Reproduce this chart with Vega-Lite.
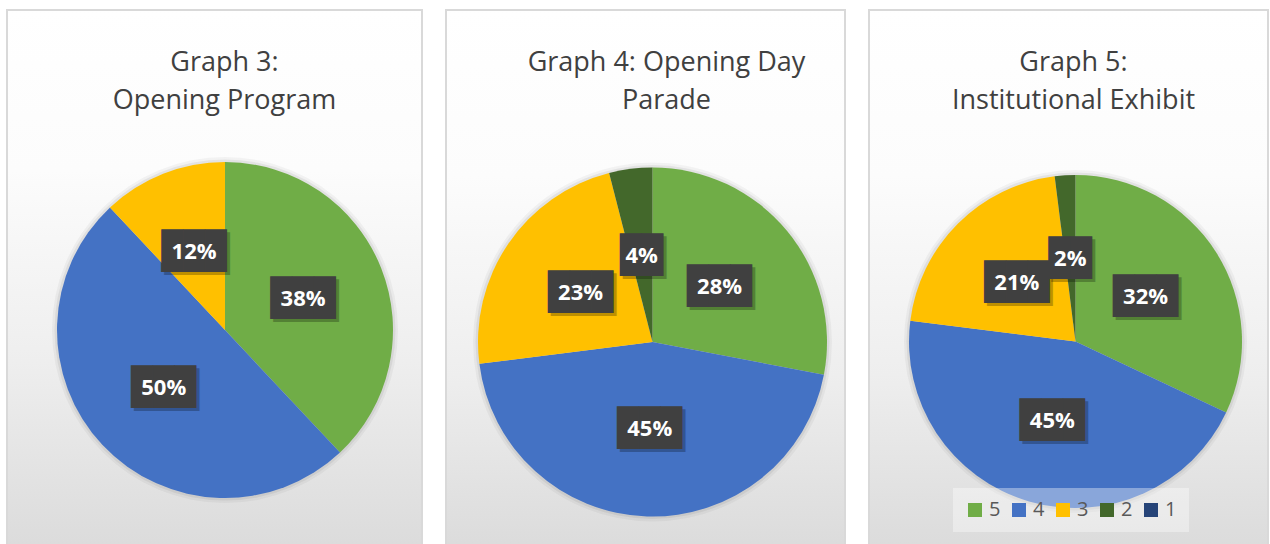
{
  "$schema": "https://vega.github.io/schema/vega-lite/v6.json",
  "background": "white",
  "padding": {"left": 6, "top": 9, "right": 0, "bottom": 0},
  "datasets": {
    "g3": [{"rating": 5, "pct": 0.38}, {"rating": 4, "pct": 0.50}, {"rating": 3, "pct": 0.12}],
    "g4": [{"rating": 5, "pct": 0.28}, {"rating": 4, "pct": 0.45}, {"rating": 3, "pct": 0.23}, {"rating": 2, "pct": 0.04}],
    "g5": [{"rating": 5, "pct": 0.32}, {"rating": 4, "pct": 0.45}, {"rating": 3, "pct": 0.21}, {"rating": 2, "pct": 0.02}]
  },
  "spacing": 22,
  "hconcat": [
    {
      "width": 415, "height": 640,
      "view": {"stroke": "#d9d9d9", "strokeWidth": 2, "fill": {"gradient": "linear", "x1": 0, "y1": 0, "x2": 0, "y2": 1, "stops": [{"offset": 0, "color": "#ffffff"}, {"offset": 0.25, "color": "#fcfcfc"}, {"offset": 0.55, "color": "#eeeeee"}, {"offset": 0.83, "color": "#dcdcdc"}, {"offset": 1, "color": "#d2d2d2"}]}},
      "title": {"text": ["Graph 3:", "Opening Program"], "dx": 10, "offset": -105},
      "data": {"name": "g3"},
      "layer": [
        {"transform": [{"aggregate": [{"op": "count", "as": "n"}]}],
         "mark": {"type": "arc", "theta": 0, "theta2": 6.2832, "radius": 173, "xOffset": 10.5, "color": "#000000", "opacity": 0.04}, "encoding": {}},
        {"transform": [{"aggregate": [{"op": "count", "as": "n"}]}],
         "mark": {"type": "arc", "theta": 0, "theta2": 6.2832, "radius": 170.5, "xOffset": 10.5, "color": "#000000", "opacity": 0.06}, "encoding": {}},
        {"mark": {"type": "arc", "radius": 168, "xOffset": 10.5},
         "encoding": {"theta": {"field": "pct", "type": "quantitative", "stack": true}, "order": {"field": "rating", "type": "quantitative", "sort": "descending"},
           "color": {"field": "rating", "type": "nominal", "scale": {"domain": [5, 4, 3, 2, 1], "range": ["#70ad47", "#4472c4", "#ffc000", "#43682b", "#264478"]}, "legend": null}}},
        {"mark": {"type": "text", "radius": 84, "xOffset": 13.5, "dy": 3, "font": "DejaVu Sans Mono", "fontSize": 36, "color": "#000000", "opacity": 0.25, "baseline": "middle", "align": "center"},
         "encoding": {"theta": {"field": "pct", "type": "quantitative", "stack": true}, "order": {"field": "rating", "type": "quantitative", "sort": "descending"}, "text": {"condition": {"test": "datum.pct >= 0.1", "value": "███"}, "value": "██"}}},
        {"mark": {"type": "text", "radius": 84, "xOffset": 10.5, "font": "DejaVu Sans Mono", "fontSize": 36, "color": "#404040", "baseline": "middle", "align": "center"},
         "encoding": {"theta": {"field": "pct", "type": "quantitative", "stack": true}, "order": {"field": "rating", "type": "quantitative", "sort": "descending"}, "text": {"condition": {"test": "datum.pct >= 0.1", "value": "███"}, "value": "██"}}},
        {"mark": {"type": "text", "radius": 84, "xOffset": 10.5, "font": "Open Sans", "fontSize": 22, "fontWeight": "bold", "color": "#ffffff", "baseline": "middle", "align": "center"},
         "encoding": {"theta": {"field": "pct", "type": "quantitative", "stack": true}, "order": {"field": "rating", "type": "quantitative", "sort": "descending"}, "text": {"field": "pct", "type": "quantitative", "format": ".0%"}}}
      ]
    },
    {
      "width": 399, "height": 664,
      "view": {"stroke": "#d9d9d9", "strokeWidth": 2, "fill": {"gradient": "linear", "x1": 0, "y1": 0, "x2": 0, "y2": 1, "stops": [{"offset": 0, "color": "#ffffff"}, {"offset": 0.25, "color": "#fcfcfc"}, {"offset": 0.55, "color": "#eeeeee"}, {"offset": 0.8, "color": "#dcdcdc"}, {"offset": 1, "color": "#d2d2d2"}]}},
      "title": {"text": ["Graph 4: Opening Day", "Parade"], "dx": 21, "offset": -105},
      "data": {"name": "g4"},
      "layer": [
        {"transform": [{"aggregate": [{"op": "count", "as": "n"}]}],
         "mark": {"type": "arc", "theta": 0, "theta2": 6.2832, "radius": 179.5, "xOffset": 7, "color": "#000000", "opacity": 0.04}, "encoding": {}},
        {"transform": [{"aggregate": [{"op": "count", "as": "n"}]}],
         "mark": {"type": "arc", "theta": 0, "theta2": 6.2832, "radius": 177, "xOffset": 7, "color": "#000000", "opacity": 0.06}, "encoding": {}},
        {"mark": {"type": "arc", "radius": 174.5, "xOffset": 7},
         "encoding": {"theta": {"field": "pct", "type": "quantitative", "stack": true}, "order": {"field": "rating", "type": "quantitative", "sort": "descending"},
           "color": {"field": "rating", "type": "nominal", "scale": {"domain": [5, 4, 3, 2, 1], "range": ["#70ad47", "#4472c4", "#ffc000", "#43682b", "#264478"]}, "legend": null}}},
        {"mark": {"type": "text", "radius": 87, "xOffset": 10, "dy": 3, "font": "DejaVu Sans Mono", "fontSize": 36, "color": "#000000", "opacity": 0.25, "baseline": "middle", "align": "center"},
         "encoding": {"theta": {"field": "pct", "type": "quantitative", "stack": true}, "order": {"field": "rating", "type": "quantitative", "sort": "descending"}, "text": {"condition": {"test": "datum.pct >= 0.1", "value": "███"}, "value": "██"}}},
        {"mark": {"type": "text", "radius": 87, "xOffset": 7, "font": "DejaVu Sans Mono", "fontSize": 36, "color": "#404040", "baseline": "middle", "align": "center"},
         "encoding": {"theta": {"field": "pct", "type": "quantitative", "stack": true}, "order": {"field": "rating", "type": "quantitative", "sort": "descending"}, "text": {"condition": {"test": "datum.pct >= 0.1", "value": "███"}, "value": "██"}}},
        {"mark": {"type": "text", "radius": 87, "xOffset": 7, "font": "Open Sans", "fontSize": 22, "fontWeight": "bold", "color": "#ffffff", "baseline": "middle", "align": "center"},
         "encoding": {"theta": {"field": "pct", "type": "quantitative", "stack": true}, "order": {"field": "rating", "type": "quantitative", "sort": "descending"}, "text": {"field": "pct", "type": "quantitative", "format": ".0%"}}}
      ]
    },
    {
      "width": 399, "height": 663,
      "view": {"stroke": "#d9d9d9", "strokeWidth": 2, "fill": {"gradient": "linear", "x1": 0, "y1": 0, "x2": 0, "y2": 1, "stops": [{"offset": 0, "color": "#ffffff"}, {"offset": 0.25, "color": "#fcfcfc"}, {"offset": 0.55, "color": "#eeeeee"}, {"offset": 0.8, "color": "#dcdcdc"}, {"offset": 1, "color": "#d2d2d2"}]}},
      "title": {"text": ["Graph 5:", "Institutional Exhibit"], "dx": 5, "offset": -105},
      "data": {"name": "g5"},
      "layer": [
        {"transform": [{"aggregate": [{"op": "count", "as": "n"}]}],
         "mark": {"type": "arc", "theta": 0, "theta2": 6.2832, "radius": 171.5, "xOffset": 7, "color": "#000000", "opacity": 0.04}, "encoding": {}},
        {"transform": [{"aggregate": [{"op": "count", "as": "n"}]}],
         "mark": {"type": "arc", "theta": 0, "theta2": 6.2832, "radius": 169, "xOffset": 7, "color": "#000000", "opacity": 0.06}, "encoding": {}},
        {"mark": {"type": "arc", "radius": 166.5, "xOffset": 7},
         "encoding": {"theta": {"field": "pct", "type": "quantitative", "stack": true}, "order": {"field": "rating", "type": "quantitative", "sort": "descending"},
           "color": {"field": "rating", "type": "nominal", "scale": {"domain": [5, 4, 3, 2, 1], "range": ["#70ad47", "#4472c4", "#ffc000", "#43682b", "#264478"]},
           "legend": {"title": null, "orient": "none", "legendX": 84, "legendY": 478, "direction": "horizontal", "columns": 5, "symbolType": "square", "symbolSize": 196, "symbolStrokeWidth": 0, "labelFontSize": 20, "labelFont": "Open Sans", "labelColor": "#595959", "labelOffset": 4, "columnPadding": 8, "padding": 12, "fillColor": "rgba(255,255,255,0.37)"}}}},
        {"mark": {"type": "text", "radius": 83, "xOffset": 10, "dy": 3, "font": "DejaVu Sans Mono", "fontSize": 36, "color": "#000000", "opacity": 0.25, "baseline": "middle", "align": "center"},
         "encoding": {"theta": {"field": "pct", "type": "quantitative", "stack": true}, "order": {"field": "rating", "type": "quantitative", "sort": "descending"}, "text": {"condition": {"test": "datum.pct >= 0.1", "value": "███"}, "value": "██"}}},
        {"mark": {"type": "text", "radius": 83, "xOffset": 7, "font": "DejaVu Sans Mono", "fontSize": 36, "color": "#404040", "baseline": "middle", "align": "center"},
         "encoding": {"theta": {"field": "pct", "type": "quantitative", "stack": true}, "order": {"field": "rating", "type": "quantitative", "sort": "descending"}, "text": {"condition": {"test": "datum.pct >= 0.1", "value": "███"}, "value": "██"}}},
        {"mark": {"type": "text", "radius": 83, "xOffset": 7, "font": "Open Sans", "fontSize": 22, "fontWeight": "bold", "color": "#ffffff", "baseline": "middle", "align": "center"},
         "encoding": {"theta": {"field": "pct", "type": "quantitative", "stack": true}, "order": {"field": "rating", "type": "quantitative", "sort": "descending"}, "text": {"field": "pct", "type": "quantitative", "format": ".0%"}}}
      ]
    }
  ],
  "resolve": {"scale": {"color": "independent", "theta": "independent"}, "legend": {"color": "independent"}},
  "config": {
    "title": {"anchor": "middle", "font": "Open Sans", "fontSize": 27, "fontWeight": "normal", "color": "#404040", "lineHeight": 38}
  }
}
